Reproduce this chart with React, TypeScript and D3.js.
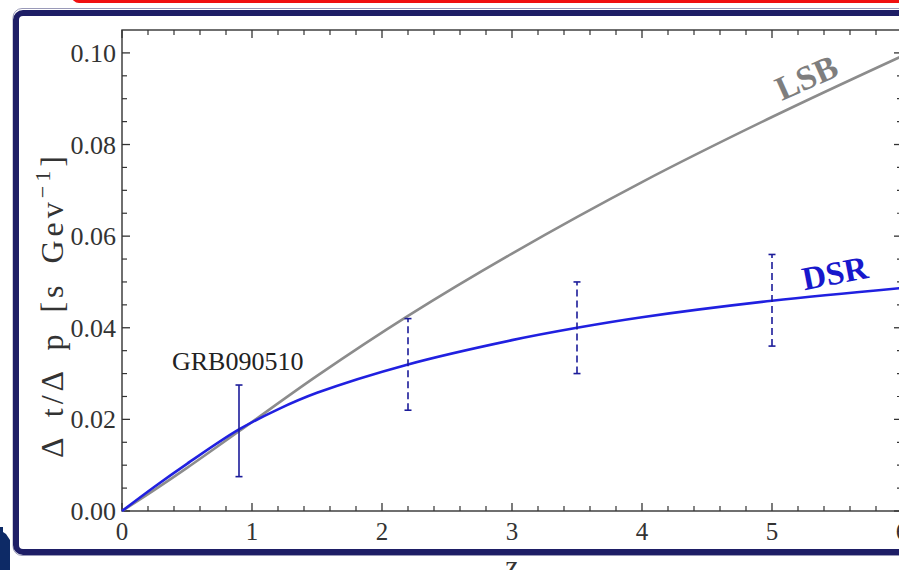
import React from "react";
import * as d3 from "d3";

// Redshift grid at which the two model curves are tabulated
const zLSB = [0, 0.25, 0.5, 0.9, 1.5, 2.2, 3, 4, 5, 6];
const lsbValues = [0, 0.0046, 0.0094, 0.0174, 0.0295, 0.0426, 0.0562, 0.0718, 0.086, 0.0993];

const zDSR = [0, 0.25, 0.5, 0.9, 1.2, 1.5, 2.2, 3, 3.5, 4, 5, 6];
const dsrValues = [0, 0.0053, 0.0103, 0.0178, 0.0222, 0.0258, 0.032, 0.0373, 0.04, 0.0423, 0.0459, 0.0487];

// Measured / simulated bursts: redshift, lower and upper delay bounds
const burstZ = [0.9, 2.2, 3.5, 5];
const burstLow = [0.0075, 0.022, 0.03, 0.036];
const burstHigh = [0.0275, 0.042, 0.05, 0.056];
const burstDashed = [false, true, true, true];

const xTickValues = [0, 1, 2, 3, 4, 5, 6];
const xTickLabels = ["0", "1", "2", "3", "4", "5", "6"];
const yTickValues = [0, 0.02, 0.04, 0.06, 0.08, 0.1];
const yTickLabels = ["0.00", "0.02", "0.04", "0.06", "0.08", "0.10"];

const W = 899;
const H = 570;

const x = d3.scaleLinear().domain([0, 6]).range([122, 902]);
const y = d3.scaleLinear().domain([0, 0.105]).range([511, 30]);

const serif = "'Liberation Serif', 'DejaVu Serif', serif";

export default function App() {
  const line = d3
    .line<[number, number]>()
    .x((d) => x(d[0]))
    .y((d) => y(d[1]))
    .curve(d3.curveCatmullRom.alpha(0.5));

  const lsbPath = line(zLSB.map((z, i) => [z, lsbValues[i]]) as [number, number][]) || "";
  const dsrPath = line(zDSR.map((z, i) => [z, dsrValues[i]]) as [number, number][]) || "";

  const xMinor = d3.range(0, 6.001, 0.2).filter((v) => Math.abs(v - Math.round(v)) > 1e-6);
  const yMinor = d3.range(0, 0.105, 0.005).filter((v) => Math.abs(v / 0.02 - Math.round(v / 0.02)) > 1e-6);

  const [x0, x1] = x.range();
  const [y0, y1] = y.range();
  const axisColor = "#333";
  const major = 8;
  const minor = 5;

  return (
    <svg
      width={W}
      height={H}
      viewBox={`0 0 ${W} ${H}`}
      style={{ position: "absolute", left: 0, top: 0, background: "#fff" }}
    >
      {/* slide decorations */}
      <rect x={73} y={-30} width={900} height={31.5} rx={6} fill="#fff" stroke="#f01010" strokeWidth={3} />
      <rect x={13} y={8.5} width={1000} height={547} rx={9} fill="none" stroke="#9a9ab8" strokeWidth={1} />
      <rect x={16} y={13} width={1000} height={539} rx={7} fill="#fff" stroke="#1e1e66" strokeWidth={6} />
      <path d="M0,527 L3,527 L3,532 L6,534 L8,537 L10,540 L10,570 L0,570 Z" fill="#0d2a66" />

      {/* frame */}
      <rect x={x0} y={y1} width={x1 - x0} height={y0 - y1} fill="none" stroke={axisColor} strokeWidth={1.4} />

      {/* x ticks, bottom and top */}
      {xTickValues.map((v) => (
        <g key={"xt" + v}>
          <line x1={x(v)} x2={x(v)} y1={y0} y2={y0 - major} stroke={axisColor} strokeWidth={1.3} />
          <line x1={x(v)} x2={x(v)} y1={y1} y2={y1 + major} stroke={axisColor} strokeWidth={1.3} />
        </g>
      ))}
      {xMinor.map((v) => (
        <g key={"xm" + v}>
          <line x1={x(v)} x2={x(v)} y1={y0} y2={y0 - minor} stroke={axisColor} strokeWidth={1.2} />
          <line x1={x(v)} x2={x(v)} y1={y1} y2={y1 + minor} stroke={axisColor} strokeWidth={1.2} />
        </g>
      ))}
      {/* y ticks, left and right */}
      {yTickValues.map((v) => (
        <g key={"yt" + v}>
          <line x1={x0} x2={x0 + major} y1={y(v)} y2={y(v)} stroke={axisColor} strokeWidth={1.3} />
          <line x1={x1} x2={x1 - major} y1={y(v)} y2={y(v)} stroke={axisColor} strokeWidth={1.3} />
        </g>
      ))}
      {yMinor.map((v) => (
        <g key={"ym" + v}>
          <line x1={x0} x2={x0 + minor} y1={y(v)} y2={y(v)} stroke={axisColor} strokeWidth={1.2} />
          <line x1={x1} x2={x1 - minor} y1={y(v)} y2={y(v)} stroke={axisColor} strokeWidth={1.2} />
        </g>
      ))}

      {/* tick labels */}
      {xTickValues.map((v, i) => (
        <text key={"xl" + v} x={x(v)} y={540} textAnchor="middle" fontFamily={serif} fontSize={25} fill="#333">
          {xTickLabels[i]}
        </text>
      ))}
      {yTickValues.map((v, i) => (
        <text key={"yl" + v} x={116} y={y(v) + 9} textAnchor="end" fontFamily={serif} fontSize={26} fill="#333">
          {yTickLabels[i]}
        </text>
      ))}

      {/* axis titles */}
      <text x={512} y={576} textAnchor="middle" fontFamily={serif} fontSize={30} fill="#333">
        z
      </text>
      <g transform="translate(63,458) rotate(-90)">
        <text y={0} fontFamily={serif} fontSize={32} fill="#333" letterSpacing={4} wordSpacing={6}>
          <tspan>Δ t/Δ p [s Gev</tspan>
          <tspan dy={-13} fontSize={22}>−1</tspan>
          <tspan dy={13}>]</tspan>
        </text>
      </g>

      {/* model curves */}
      <path d={lsbPath} fill="none" stroke="#8c8c8c" strokeWidth={2.6} />
      <path d={dsrPath} fill="none" stroke="#2020e0" strokeWidth={2.6} />

      {/* error bars */}
      {burstZ.map((z, i) => (
        <g key={"eb" + z} stroke="#1c1c9a" strokeWidth={1.6}>
          <line
            x1={x(z)}
            x2={x(z)}
            y1={y(burstLow[i])}
            y2={y(burstHigh[i])}
            strokeDasharray={burstDashed[i] ? "7 4" : undefined}
          />
          <line x1={x(z) - 3.5} x2={x(z) + 3.5} y1={y(burstLow[i])} y2={y(burstLow[i])} />
          <line x1={x(z) - 3.5} x2={x(z) + 3.5} y1={y(burstHigh[i])} y2={y(burstHigh[i])} />
        </g>
      ))}

      {/* annotations */}
      <text x={172} y={370} fontFamily={serif} fontSize={26} fill="#222">
        GRB090510
      </text>
      <text
        transform="translate(811,88) rotate(-24)"
        textAnchor="middle"
        fontFamily={serif}
        fontWeight="bold"
        fontSize={34}
        fill="#7e7e7e"
      >
        LSB
      </text>
      <text
        transform="translate(837,284) rotate(-11)"
        textAnchor="middle"
        fontFamily={serif}
        fontWeight="bold"
        fontSize={33}
        fill="#1818cc"
      >
        DSR
      </text>
    </svg>
  );
}
